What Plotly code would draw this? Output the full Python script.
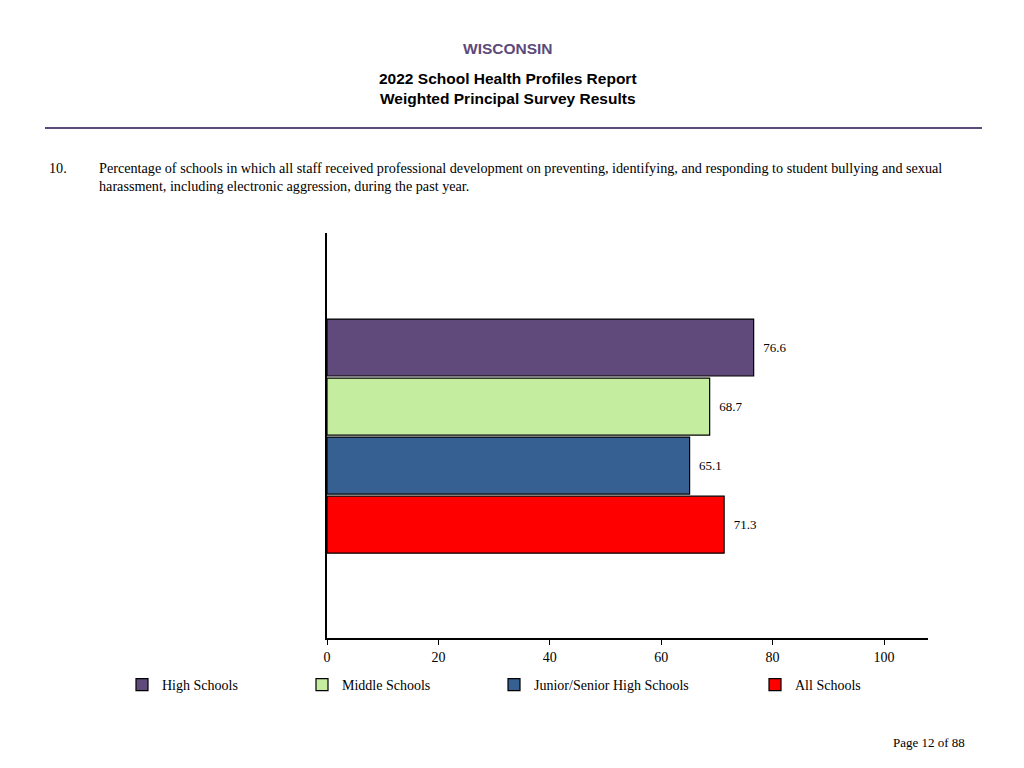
import plotly.graph_objects as go

# donnees
groups = ["High Schools", "Middle Schools", "Junior/Senior High Schools", "All Schools"]
values = [76.6, 68.7, 65.1, 71.3]
colors = ["#604a7b", "#c4eda0", "#366092", "#ff0000"]
ypos = [3, 2, 1, 0]
xticks = [0, 20, 40, 60, 80, 100]

title_state = "WISCONSIN"
title_report = "2022 School Health Profiles Report<br>Weighted Principal Survey Results"
question_num = "10."
question_text = ("Percentage of schools in which all staff received professional development on preventing, "
                 "identifying, and responding to student bullying and sexual<br>"
                 "harassment, including electronic aggression, during the past year.")
page_text = "Page 12 of 88"

# la page html a une marge de 8px -> on decale tout
OFF = 8
W, H = 1024 - OFF * 2, 768 - OFF * 2
# zone du graphe en pixels (coordonnees de l'image de reference)
L, R, T, B = 327, 928, 233, 638


def px(x):
    return (x - L) / (R - L)


def py(y):
    return (B - y) / (B - T)


fig = go.Figure()

legend_names = ["legend", "legend2", "legend3", "legend4"]
for i in range(len(groups)):
    fig.add_trace(go.Bar(
        y=[ypos[i]], x=[values[i]], orientation="h", name=groups[i],
        width=0.965,
        marker=dict(color=colors[i], line=dict(color="black", width=1.2)),
        texttemplate="  %{x:.1f}", textposition="outside",
        textfont=dict(family="Liberation Serif", size=13, color="black"),
        cliponaxis=False,
        legend=legend_names[i],
        hoverinfo="x+name",
    ))

fig.update_xaxes(range=[0, 107.9], tickvals=xticks, ticks="outside", ticklen=5,
                 tickcolor="black", showline=True, linecolor="black", linewidth=1.5,
                 showgrid=False, zeroline=False,
                 tickfont=dict(family="Liberation Serif", size=14, color="black"))
fig.update_yaxes(range=[-1.92, 4.94], showticklabels=False, ticks="",
                 showline=True, linecolor="black", linewidth=1.5,
                 showgrid=False, zeroline=False)

# legendes separees pour les positions
leg_x = [122, 302, 494, 755]
leg = dict(orientation="h", yanchor="middle", y=py(685), xanchor="left",
           font=dict(family="Liberation Serif", size=14, color="black"),
           bgcolor="rgba(0,0,0,0)", itemwidth=30)
fig.update_layout(
    legend=dict(leg, x=px(leg_x[0])),
    legend2=dict(leg, x=px(leg_x[1])),
    legend3=dict(leg, x=px(leg_x[2])),
    legend4=dict(leg, x=px(leg_x[3])),
)

# titres
fig.add_annotation(xref="paper", yref="paper", x=px(508), y=py(49), text="<b>" + title_state + "</b>",
                   showarrow=False, xanchor="center", yanchor="middle",
                   font=dict(family="Liberation Sans", size=15.5, color="#5c4a7a"))
fig.add_annotation(xref="paper", yref="paper", x=px(508), y=py(89), text="<b>" + title_report + "</b>",
                   showarrow=False, align="center", xanchor="center", yanchor="middle",
                   font=dict(family="Liberation Sans", size=15.5, color="black"))
fig.add_shape(type="line", xref="paper", yref="paper", x0=px(45), x1=px(982), y0=py(128), y1=py(128),
              line=dict(color="#5c4a7a", width=2))

# question
fig.add_annotation(xref="paper", yref="paper", x=px(47), y=py(168), text=question_num,
                   showarrow=False, xanchor="left", yanchor="middle",
                   font=dict(family="Liberation Serif", size=14.2, color="black"))
fig.add_annotation(xref="paper", yref="paper", x=px(97), y=py(177), text=question_text,
                   showarrow=False, xanchor="left", yanchor="middle", align="left",
                   font=dict(family="Liberation Serif", size=14.2, color="black"))

fig.add_annotation(xref="paper", yref="paper", x=px(929), y=py(742), text=page_text,
                   showarrow=False, xanchor="center", yanchor="middle",
                   font=dict(family="Liberation Serif", size=13, color="black"))

fig.update_layout(
    width=W, height=H,
    margin=dict(l=L - OFF, r=W - (R - OFF), t=T - OFF, b=H - (B - OFF), pad=0),
    plot_bgcolor="white", paper_bgcolor="white",
    barmode="overlay", showlegend=True,
)

fig.write_html("out.html")
